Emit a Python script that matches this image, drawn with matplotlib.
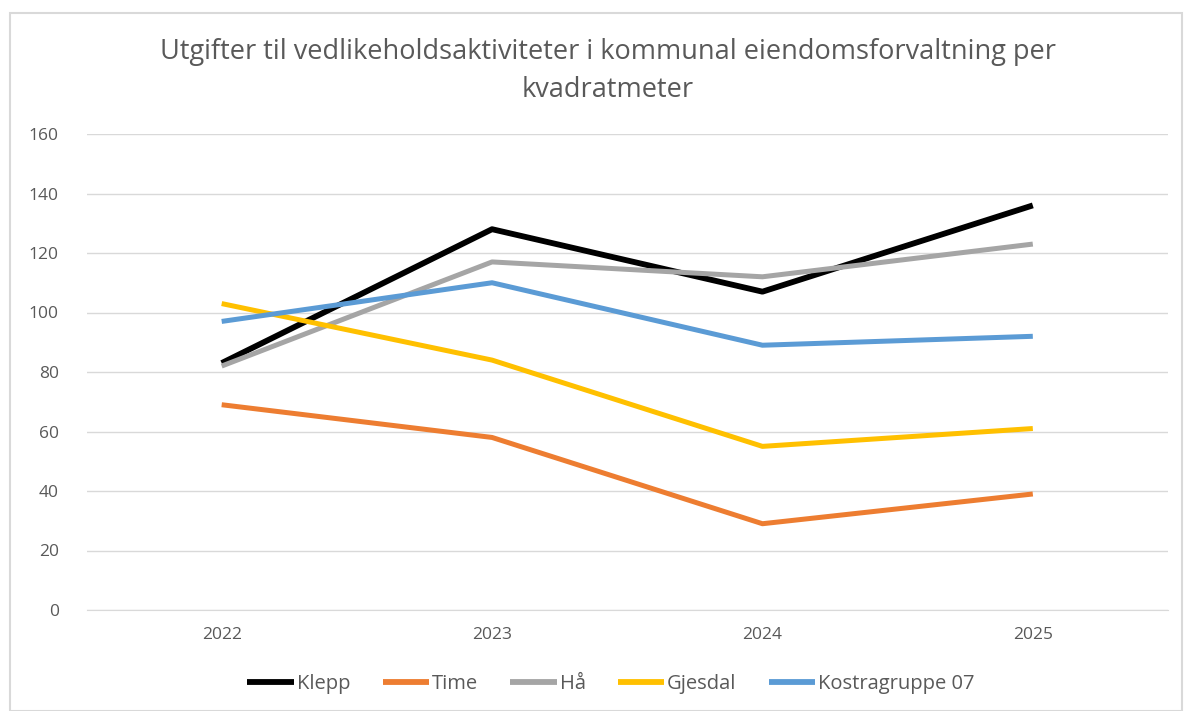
import matplotlib
matplotlib.use("Agg")
import matplotlib.pyplot as plt
from matplotlib.patches import Rectangle

plt.rcParams['font.family'] = ['Open Sans', 'DejaVu Sans']

years = ["2022", "2023", "2024", "2025"]
klepp = [83, 128, 107, 136]
time_ = [69, 58, 29, 39]
haa = [82, 117, 112, 123]
gjesdal = [103, 84, 55, 61]
kostra = [97, 110, 89, 92]

series = [
    ("Klepp", klepp, "#000000", 4.2),
    ("Time", time_, "#ED7D31", 3.6),
    ("Hå", haa, "#A5A5A5", 3.6),
    ("Gjesdal", gjesdal, "#FFC000", 3.6),
    ("Kostragruppe 07", kostra, "#5B9BD5", 3.6),
]

fig = plt.figure(figsize=(11.94, 7.11), dpi=100)
fig.patches.append(Rectangle((10/1194, 0), (1182-10)/1194, 1 - 13/711,
                             transform=fig.transFigure, fill=False,
                             edgecolor="#D9D9D9", linewidth=1.5))
ax = fig.add_axes([86.5/1194, 1 - 610/711, (1168-86.5)/1194, (610-134)/711])

x = [i + 0.5 for i in range(len(years))]
for name, vals, col, lw in series:
    ax.plot(x, vals, color=col, linewidth=lw, label=name, solid_capstyle='butt')

ax.set_xlim(0, 4)
ax.set_ylim(0, 160)
ax.set_yticks(range(0, 161, 20))
ax.set_xticks(x)
ax.set_xticklabels(years)
ax.grid(axis='y', color="#D9D9D9", linewidth=1)
ax.set_axisbelow(True)
for s in ['top', 'right', 'left']:
    ax.spines[s].set_visible(False)
ax.spines['bottom'].set_color("#D9D9D9")
ax.tick_params(axis='both', length=0, labelsize=12.5, colors="#595959")
ax.tick_params(axis='y', pad=20)
ax.tick_params(axis='x', pad=12)

fig.text(608/1194, 1 - 52/711, "Utgifter til vedlikeholdsaktiviteter i kommunal eiendomsforvaltning per",
         ha='center', va='center', fontsize=19.5, color="#595959")
fig.text(608/1194, 1 - 90/711, "kvadratmeter",
         ha='center', va='center', fontsize=19.5, color="#595959")

leg = fig.legend(loc='center', bbox_to_anchor=(611/1194, 1 - 684/711), ncol=5,
                 frameon=False, fontsize=14.5, handlelength=2.3, handletextpad=0.15,
                 columnspacing=1.6, labelcolor="#595959")
for h in leg.get_lines():
    h.set_linewidth(4.2)

fig.savefig("out.png", dpi=100)
